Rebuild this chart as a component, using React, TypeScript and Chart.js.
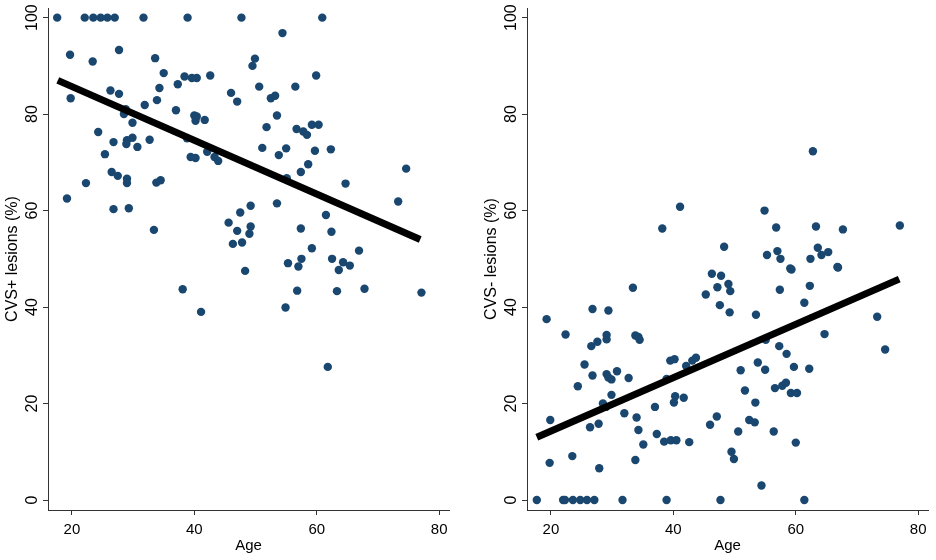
import { useEffect, useRef } from 'react';
import { Chart, registerables } from 'chart.js';

Chart.register(...registerables);

// tick labels
const ageTicks = [20, 40, 60, 80];
const pctTicks = [0, 20, 40, 60, 80, 100];

// CVS+ lesions (%) by age
const agePlus = [
  17.6, 22.1, 23.5, 24.7, 25.8, 27.0, 31.7, 38.9, 47.7, 60.9,
  19.7, 23.4, 27.7, 33.6, 35.0, 19.8, 26.3, 27.7, 34.3, 33.9,
  37.3, 38.4, 39.6, 40.4, 42.6, 31.9, 37.0, 28.5, 28.8, 29.9,
  40.0, 40.4, 40.2, 41.7, 24.3, 26.8, 29.0, 29.9, 28.9, 30.7,
  32.7, 38.8, 25.4, 39.4, 40.2, 42.1, 43.3, 43.9, 26.5, 27.5,
  29.0, 29.0, 22.3, 33.8, 34.5, 19.2, 26.8, 29.3, 33.4, 45.6,
  47.0, 46.3, 46.0, 47.0, 54.4, 49.9, 49.5, 59.9, 50.6, 56.5,
  52.5, 53.2, 53.5, 51.8, 56.7, 57.8, 58.4, 59.2, 60.3, 51.1,
  55.0, 53.8, 59.7, 62.3, 58.6, 57.4, 55.1, 74.6, 64.7, 73.3,
  53.5, 49.2, 47.5, 49.2, 49.0, 47.8, 61.5, 57.4, 62.4, 59.2,
  66.9, 57.5, 55.3, 57.0, 62.5, 64.3, 65.4, 63.6, 48.3, 38.1,
  41.1, 54.9, 56.8, 63.3, 67.8, 77.1, 61.8,
];
const cvsPlus = [
  100, 100, 100, 100, 100, 100, 100, 100, 100, 100,
  92.3, 90.9, 93.3, 91.6, 88.5, 83.3, 84.9, 84.2, 85.4, 82.9,
  86.2, 87.8, 87.5, 87.5, 88.0, 81.9, 80.8, 80.0, 81.0, 78.2,
  79.7, 79.5, 78.6, 78.8, 76.3, 74.2, 74.6, 75.1, 73.8, 73.2,
  74.7, 75.0, 71.7, 71.1, 70.9, 72.2, 71.1, 70.3, 68.0, 67.2,
  66.6, 65.7, 65.7, 65.8, 66.3, 62.5, 60.3, 60.5, 56.0, 57.5,
  55.8, 53.1, 84.4, 82.6, 96.8, 91.5, 90.0, 88.0, 85.7, 85.7,
  83.3, 83.8, 79.7, 77.3, 76.9, 76.4, 75.7, 77.8, 77.8, 73.0,
  72.9, 71.5, 72.4, 72.7, 69.6, 68.0, 66.7, 68.7, 65.6, 61.9,
  61.5, 61.0, 59.6, 56.7, 55.2, 53.4, 59.1, 56.3, 55.6, 52.2,
  51.7, 50.0, 49.1, 48.4, 50.0, 49.3, 48.6, 47.7, 47.5, 43.7,
  39.0, 39.9, 43.4, 43.3, 43.8, 43.0, 27.6,
];

// CVS- lesions (%) by age
const ageMinus = [
  17.7, 22.0, 22.3, 23.6, 24.8, 25.9, 27.1, 31.7, 38.9, 19.3,
  19.9, 19.8, 22.4, 23.5, 24.4, 25.5, 26.6, 26.8, 26.8, 26.4,
  27.6, 27.8, 27.9, 29.1, 29.1, 29.4, 29.1, 29.4, 29.9, 30.8,
  28.5, 29.0, 29.9, 32.7, 32.0, 33.4, 33.8, 34.3, 34.5, 34.0,
  34.3, 33.8, 35.1, 37.0, 37.3, 38.5, 39.6, 40.5, 38.9, 39.5,
  40.2, 40.1, 40.3, 41.7, 42.1, 42.6, 43.1, 43.7, 46.3, 47.8,
  47.2, 49.0, 49.3, 45.3, 47.6, 49.2, 53.5, 59.3, 66.9, 57.4,
  62.3, 61.4, 73.3, 64.7, 74.6, 55.1, 57.3, 58.5, 51.0, 53.8,
  55.0, 59.7, 62.2, 51.7, 56.6, 57.8, 58.4, 59.2, 60.2, 53.4,
  47.1, 46.0, 52.4, 53.3, 50.6, 56.4, 60.0, 49.5, 49.9, 54.4,
  47.7, 61.4, 62.8, 38.2, 41.1, 54.9, 56.8, 63.3, 67.7, 77.0,
  48.3, 55.3, 57.0, 57.5, 59.1, 62.4, 63.6, 64.2, 65.3, 66.8,
];
const cvsMinus = [
  0, 0, 0, 0, 0, 0, 0, 0, 0, 37.5,
  16.6, 7.7, 34.3, 9.1, 23.6, 28.1, 31.9, 39.6, 25.8, 15.1,
  32.8, 15.8, 6.6, 34.2, 33.3, 39.3, 26.1, 25.4, 25.0, 26.7,
  20.0, 19.3, 21.8, 25.3, 18.0, 44.0, 34.1, 33.8, 33.2, 17.1,
  14.5, 8.3, 11.5, 19.3, 13.7, 12.1, 12.4, 12.4, 25.1, 28.9,
  29.2, 20.2, 21.5, 21.2, 27.8, 12.0, 28.9, 29.5, 46.9, 46.5,
  44.1, 44.8, 43.3, 42.6, 40.4, 38.9, 38.4, 47.8, 48.2, 43.6,
  44.4, 40.9, 38.0, 34.4, 31.2, 33.2, 31.9, 30.3, 26.9, 28.5,
  27.0, 27.6, 27.2, 22.7, 23.2, 23.7, 24.3, 22.2, 22.2, 20.2,
  17.3, 15.6, 16.6, 16.1, 14.2, 14.2, 11.9, 10.0, 8.5, 3.0,
  0, 0, 72.3, 56.3, 60.8, 60.0, 56.5, 56.7, 56.1, 56.9,
  52.5, 50.8, 51.6, 50.0, 48.0, 50.0, 52.3, 50.8, 51.4, 48.3,
];

// fitted lines, read at the youngest and oldest age
const fitAge = [17.7, 76.9];
const fitPlus = [87.0, 54.0];
const fitMinus = [13.0, 45.8];

const navy = '#1a476f';
const axisColor = '#333333';
const family = "'Liberation Sans', Arial, sans-serif";

interface PanelProps {
  ages: number[];
  values: number[];
  fit: number[];
  yTitle: string;
  left: number;
}

function Panel({ ages, values, fit, yTitle, left }: PanelProps) {
  const canvasRef = useRef<HTMLCanvasElement>(null);

  useEffect(() => {
    const canvas = canvasRef.current;
    if (!canvas) {
      return undefined;
    }

    const chart = new Chart(canvas, {
      type: 'scatter',
      data: {
        datasets: [
          {
            type: 'line',
            data: fitAge.map((x, i) => ({ x, y: fit[i] })),
            borderColor: '#000000',
            borderWidth: 7,
            borderCapStyle: 'butt',
            pointRadius: 0,
            fill: false,
            order: 0,
          },
          {
            data: ages.map((x, i) => ({ x, y: values[i] })),
            backgroundColor: navy,
            borderWidth: 0,
            pointRadius: 4.2,
            order: 1,
          },
        ],
      },
      options: {
        animation: false,
        responsive: true,
        maintainAspectRatio: false,
        layout: { padding: { top: 8, right: 8, bottom: 0, left: 0 } },
        plugins: {
          legend: { display: false },
          tooltip: { enabled: false },
        },
        scales: {
          x: {
            type: 'linear',
            min: 16.1,
            max: 81.6,
            afterBuildTicks: (scale) => {
              scale.ticks = ageTicks.map((value) => ({ value }));
            },
            afterFit: (scale) => {
              scale.height = 50;
            },
            grid: {
              drawOnChartArea: false,
              tickLength: 5,
              color: axisColor,
            },
            border: { color: axisColor, width: 1 },
            ticks: {
              padding: 6,
              color: '#000000',
              maxRotation: 0,
              font: { family, size: 15 },
            },
            title: {
              display: true,
              text: 'Age',
              color: '#000000',
              font: { family, size: 15 },
              padding: { top: 0, bottom: 5 },
            },
          },
          y: {
            type: 'linear',
            min: -2.07,
            max: 102,
            afterBuildTicks: (scale) => {
              scale.ticks = pctTicks.map((value) => ({ value }));
            },
            afterFit: (scale) => {
              scale.width = 48;
            },
            grid: {
              drawOnChartArea: false,
              tickLength: 5,
              color: axisColor,
            },
            border: { color: axisColor, width: 1 },
            ticks: {
              padding: -3,
              color: '#000000',
              minRotation: 90,
              maxRotation: 90,
              crossAlign: 'center',
              font: { family, size: 16 },
            },
            title: {
              display: true,
              text: yTitle,
              color: '#000000',
              font: { family, size: 16 },
              padding: { top: 3, bottom: 0 },
            },
          },
        },
      },
    });

    return () => {
      chart.destroy();
    };
  }, [ages, values, fit, yTitle]);

  return (
    <div style={{ position: 'absolute', left, top: 0, width: 457, height: 560 }}>
      <canvas ref={canvasRef} role="img" aria-label={yTitle} />
    </div>
  );
}

export default function App() {
  return (
    <div
      style={{
        position: 'fixed',
        left: 0,
        top: 0,
        width: 936,
        height: 560,
        background: '#ffffff',
      }}
    >
      <Panel ages={agePlus} values={cvsPlus} fit={fitPlus} yTitle="CVS+ lesions (%)" left={0} />
      <Panel ages={ageMinus} values={cvsMinus} fit={fitMinus} yTitle="CVS- lesions (%)" left={479} />
    </div>
  );
}
